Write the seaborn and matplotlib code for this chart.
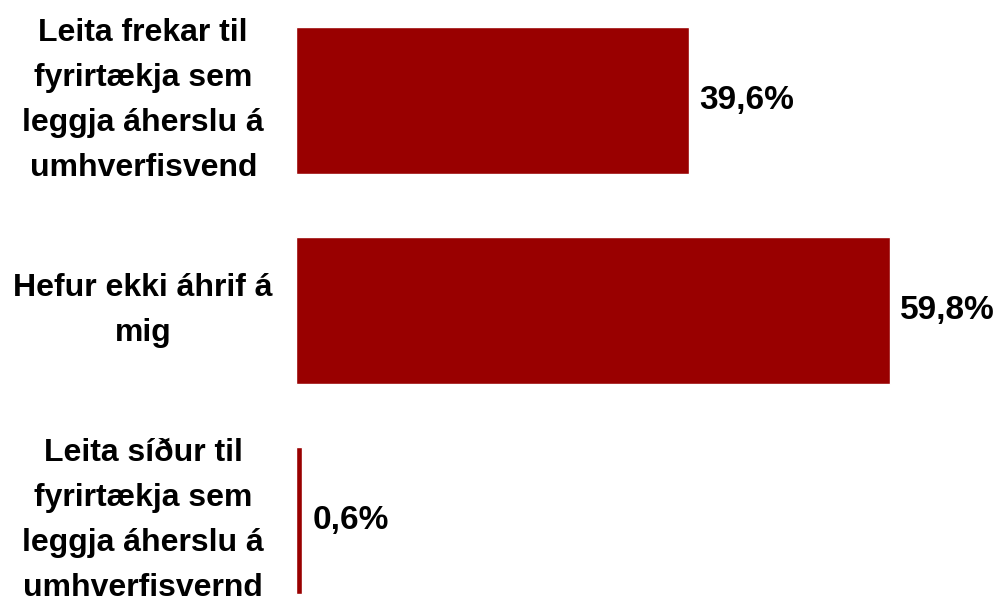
import matplotlib
matplotlib.use("Agg")
import matplotlib.pyplot as plt
import matplotlib.transforms as mtransforms
import seaborn as sns
import pandas as pd

categories = [
    "Leita frekar til\nfyrirtækja sem\nleggja áherslu á\numhverfisvend",
    "Hefur ekki áhrif á\nmig",
    "Leita síður til\nfyrirtækja sem\nleggja áherslu á\numhverfisvernd",
]
values = [39.6, 59.8, 0.6]
value_labels = ["39,6%", "59,8%", "0,6%"]

sns.set_style("white")
plt.rcParams["font.family"] = ["Liberation Sans", "DejaVu Sans"]
plt.rcParams["text.color"] = "black"
plt.rcParams["ytick.color"] = "black"

df = pd.DataFrame({"category": categories, "value": values})

fig = plt.figure(figsize=(10, 6.05), dpi=100)
ax = fig.add_axes([0.296, 0.0, 0.70, 1.0])
sns.barplot(data=df, x="value", y="category", color="#990000",
            saturation=1, width=0.7, ax=ax)

ax.set_xlim(0, 70.5)
ax.set_ylim(2.402, -0.479)
sns.despine(ax=ax, left=True, bottom=True, top=True, right=True)
ax.set_xticks([])
ax.set_xlabel("")
ax.set_ylabel("")
ax.tick_params(axis="y", length=0, pad=110)

# nudge the category labels up a little
shift = mtransforms.ScaledTranslation(0, 0.11, fig.dpi_scale_trans)
for lbl in ax.get_yticklabels():
    lbl.set_ha("center")
    lbl.set_multialignment("center")
    lbl.set_fontsize(23)
    lbl.set_fontweight("bold")
    lbl.set_color("black")
    lbl.set_linespacing(1.66)
    lbl.set_transform(lbl.get_transform() + shift)

for i, (v, t) in enumerate(zip(values, value_labels)):
    ax.annotate(t, xy=(v, i), xytext=(7.5, 0), textcoords="offset points",
                va="center", ha="left", fontsize=24, fontweight="bold",
                color="black")

fig.savefig("out.png", dpi=100)
